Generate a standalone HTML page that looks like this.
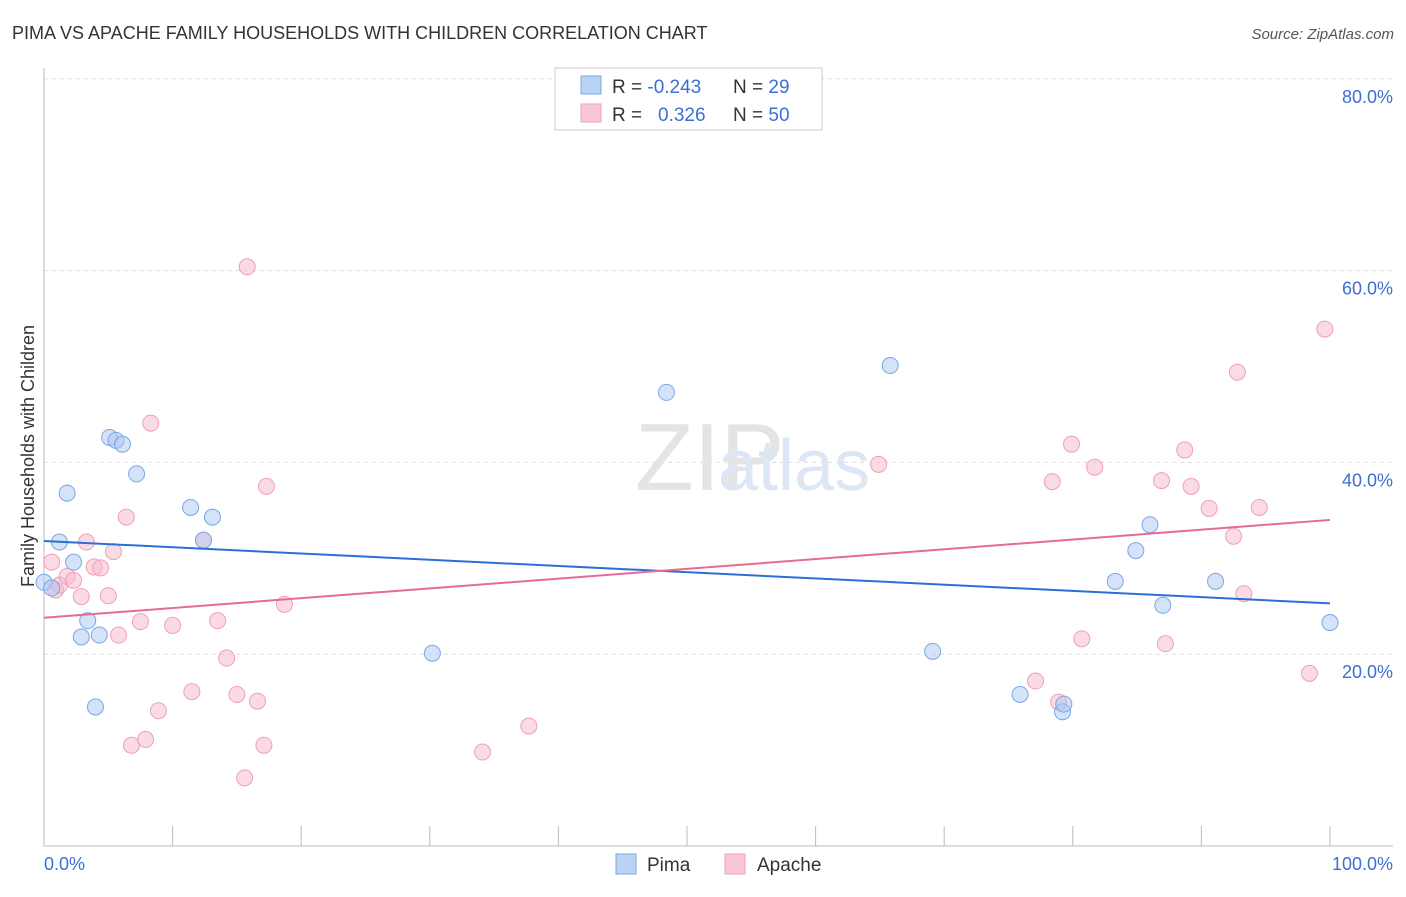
<!DOCTYPE html>
<html><head><meta charset="utf-8"><style>
body{margin:0;background:#fff;font-family:"Liberation Sans",sans-serif}
svg text{font-family:"Liberation Sans",sans-serif}
</style></head><body>
<svg width="1406" height="892" viewBox="0 0 1406 892">
<text x="12" y="39" font-size="18" fill="#333">PIMA VS APACHE FAMILY HOUSEHOLDS WITH CHILDREN CORRELATION CHART</text>
<text x="1394" y="39" font-size="15" fill="#555" font-style="italic" text-anchor="end">Source: ZipAtlas.com</text>
<g id="grid"></g>
<text x="635" y="490" font-size="96" fill="#e4e4e4" font-family="Liberation Serif">ZIP</text>
<text x="718" y="490" font-size="72" fill="#dce6f5">atlas</text>
<text transform="translate(34,456) rotate(-90)" font-size="18" fill="#333" text-anchor="middle">Family Households with Children</text>
<g id="marks"></g>
<g>
<rect x="555" y="68" width="267" height="62" fill="#fff" stroke="#ccc"/>
<rect x="581" y="76" width="20" height="18" fill="#b9d3f5" stroke="#7aa7e6"/>
<rect x="581" y="104" width="20" height="18" fill="#f9c6d5" stroke="#eea0b8"/>
<text x="612" y="93" font-size="19" fill="#333">R = <tspan fill="#3b6fd4">-0.243</tspan><tspan x="733">N = </tspan><tspan fill="#3b6fd4">29</tspan></text>
<text x="612" y="121" font-size="19" fill="#333">R = <tspan x="658" fill="#3b6fd4">0.326</tspan><tspan x="733">N = </tspan><tspan fill="#3b6fd4">50</tspan></text>
</g>
<g>
<rect x="616" y="854" width="20" height="20" fill="#b9d3f5" stroke="#7aa7e6"/>
<text x="647" y="871" font-size="19" fill="#333">Pima</text>
<rect x="725" y="854" width="20" height="20" fill="#f9c6d5" stroke="#eea0b8"/>
<text x="757" y="871" font-size="19" fill="#333">Apache</text>
</g>
<text x="44" y="870" font-size="18" fill="#3b6fd4">0.0%</text>
<text x="1393" y="870" font-size="18" fill="#3b6fd4" text-anchor="end">100.0%</text>
</svg>
<script>
const yTicks=[20,40,60,80];
const yTickLabels=["20.0%","40.0%","60.0%","80.0%"];
const pimaX=[0,0.6,1.2,1.8,2.3,2.9,3.4,4.0,4.3,5.1,5.6,6.1,7.2,11.4,12.4,13.1,30.2,48.4,65.8,69.1,75.9,79.2,79.3,83.3,84.9,86.0,87.0,91.1,100];
const pimaY=[27.5,26.9,31.7,36.8,29.6,21.8,23.5,14.5,22.0,42.6,42.3,41.9,38.8,35.3,31.9,34.3,20.1,47.3,50.1,20.3,15.8,14.0,14.8,27.6,30.8,33.5,25.1,27.6,23.3];
const apacheX=[0.6,0.9,1.2,1.8,2.3,2.9,3.3,3.9,4.4,5.0,5.4,5.8,6.4,6.8,7.5,7.9,8.3,8.9,10.0,11.5,12.4,13.5,14.2,15.0,15.6,15.8,16.6,17.1,17.3,18.7,34.1,37.7,64.9,77.1,78.4,78.9,79.9,80.7,81.7,86.9,87.2,88.7,89.2,90.6,92.5,92.8,93.3,94.5,98.4,99.6];
const apacheY=[29.6,26.7,27.2,28.1,27.7,26.0,31.7,29.1,29.0,26.1,30.7,22.0,34.3,10.5,23.4,11.1,44.1,14.1,23.0,16.1,31.9,23.5,19.6,15.8,7.1,60.4,15.1,10.5,37.5,25.2,9.8,12.5,39.8,17.2,38.0,15.0,41.9,21.6,39.5,38.1,21.1,41.3,37.5,35.2,32.3,49.4,26.3,35.3,18.0,53.9];
const pimaTrend=[31.8,25.3];
const apacheTrend=[23.8,34.0];
const NS="http://www.w3.org/2000/svg";
const X=v=>44+v*12.86, Y=v=>846-v*9.59;
function mk(tag,attrs,parent){const e=document.createElementNS(NS,tag);for(const k in attrs)e.setAttribute(k,attrs[k]);parent.appendChild(e);return e;}
const grid=document.getElementById('grid'), marks=document.getElementById('marks');
yTicks.forEach((t,i)=>{
 const l=mk('line',{x1:44,x2:1393,y1:Y(t),y2:Y(t),stroke:'#ddd','stroke-dasharray':'4,4'},grid);
 
 
 const tx=mk('text',{x:1393,y:Y(t)+24,'font-size':18,fill:'#3b6fd4','text-anchor':'end'},grid);
 tx.textContent=yTickLabels[i];
 
 
});
const ax=mk('path',{d:'M44 68V846H1393',stroke:'#bbb',fill:'none'},grid);


for(let i=1;i<=10;i++){
 const t=mk('line',{x1:X(i*10),x2:X(i*10),y1:826,y2:846,stroke:'#bbb'},grid);
 
 
}
function pts(xs,ys,fill,stroke,name){
 xs.forEach((x,i)=>{
  const c=mk('circle',{cx:X(x),cy:Y(ys[i]),r:8,fill:fill,'fill-opacity':0.5,stroke:stroke,'stroke-width':1},marks);
  
  
 });
}
pts(apacheX,apacheY,'#f5b8cb','#eea0b8','apache-point');
pts(pimaX,pimaY,'#a9c8f0','#7aa7e6','pima-point');
const l1=mk('line',{x1:X(0),x2:X(100),y1:Y(pimaTrend[0]),y2:Y(pimaTrend[1]),stroke:'#2a6fd6','stroke-width':2},marks);


const l2=mk('line',{x1:X(0),x2:X(100),y1:Y(apacheTrend[0]),y2:Y(apacheTrend[1]),stroke:'#e76b97','stroke-width':2},marks);


</script>
</body></html>
